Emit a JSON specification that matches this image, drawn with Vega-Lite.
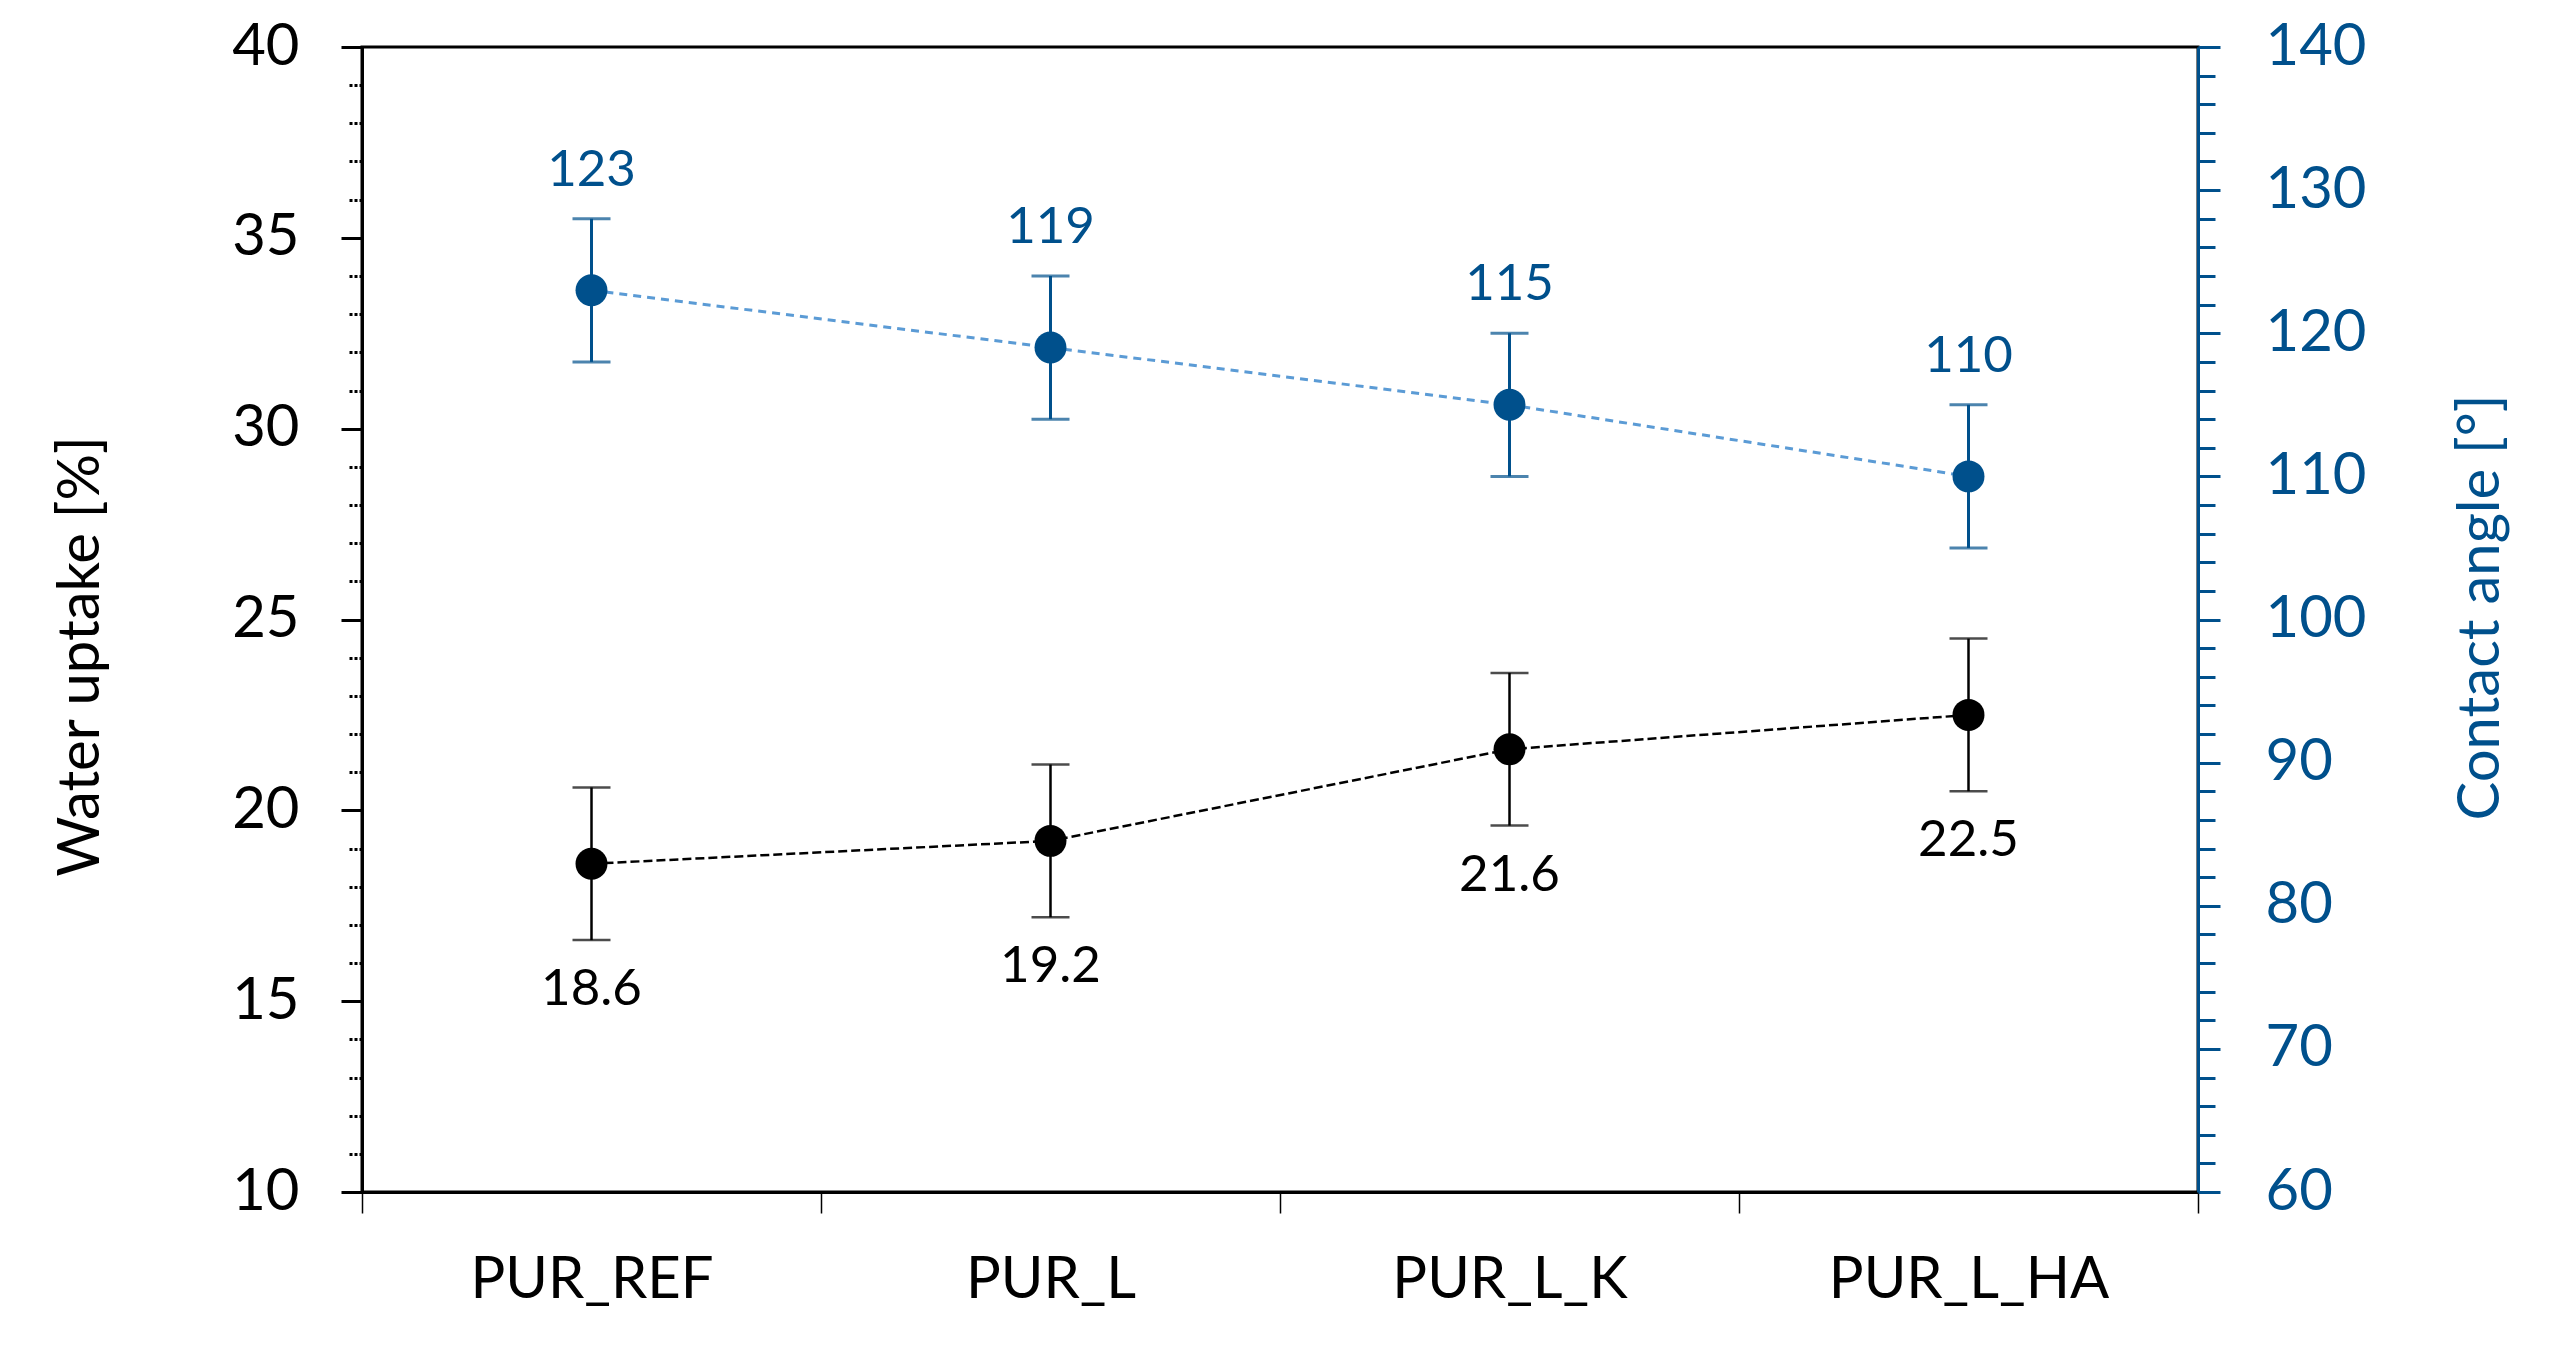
{
  "$schema": "https://vega.github.io/schema/vega-lite/v6.json",
  "width": 1836,
  "height": 1145,
  "autosize": {"type": "none"},
  "padding": {"left": 362, "top": 47, "right": 357, "bottom": 166},
  "background": "white",
  "config": {
    "view": {"stroke": "black", "strokeWidth": 3},
    "font": "Lato"
  },
  "data": {
    "values": [
      {"sample": "PUR_REF", "water": 18.6, "water_lo": 16.6, "water_hi": 20.6, "angle": 123, "angle_lo": 118, "angle_hi": 128},
      {"sample": "PUR_L", "water": 19.2, "water_lo": 17.2, "water_hi": 21.2, "angle": 119, "angle_lo": 114, "angle_hi": 124},
      {"sample": "PUR_L_K", "water": 21.6, "water_lo": 19.6, "water_hi": 23.6, "angle": 115, "angle_lo": 110, "angle_hi": 120},
      {"sample": "PUR_L_HA", "water": 22.5, "water_lo": 20.5, "water_hi": 24.5, "angle": 110, "angle_lo": 105, "angle_hi": 115}
    ]
  },
  "encoding": {
    "x": {
      "field": "sample",
      "type": "nominal",
      "sort": null,
      "scale": {"type": "band", "paddingInner": 0, "paddingOuter": 0},
      "axis": {
        "title": null,
        "labelAngle": 0,
        "labelLimit": 0,
        "tickBand": "extent",
        "tickSize": 21,
        "tickWidth": 1.5,
        "tickColor": "black",
        "domainColor": "black",
        "domainWidth": 3,
        "labelFont": "Lato",
        "labelFontSize": 58,
        "labelColor": "black",
        "labelPadding": 38,
        "grid": false
      }
    }
  },
  "layer": [
    {
      "mark": {"type": "line", "color": "black", "strokeWidth": 2.5, "strokeDash": [9, 4]},
      "encoding": {
        "y": {
          "field": "water",
          "type": "quantitative",
          "scale": {"domain": [10, 40], "nice": false, "zero": false},
          "axis": {
            "orient": "left",
            "title": "Water uptake [%]",
            "values": [10,11,12,13,14,15,16,17,18,19,20,21,22,23,24,25,26,27,28,29,30,31,32,33,34,35,36,37,38,39,40],
            "labelExpr": "datum.value % 5 === 0 ? datum.label : ''",
            "labelOverlap": false,
            "tickSize": {"condition": {"test": "datum.value % 5 === 0", "value": 21}, "value": 15},
            "tickDash": {"condition": {"test": "datum.value % 5 === 0", "value": [1, 0]}, "value": [3, 2]},
            "tickColor": "black",
            "tickWidth": 3,
            "domainColor": "black",
            "domainWidth": 3,
            "labelFont": "Lato",
            "labelFontSize": 58,
            "labelColor": "black",
            "labelPadding": 42,
            "grid": false,
            "titleFont": "Lato",
            "titleFontSize": 58,
            "titleFontWeight": "normal",
            "titleColor": "black",
            "titleAngle": 270,
            "titleBaseline": "bottom",
            "titleAlign": "center",
            "titleX": -252,
            "titleY": 609
          }
        }
      }
    },
    {
      "mark": {"type": "errorbar", "color": "black", "thickness": 2.5, "ticks": {"size": 38, "thickness": 2.5, "color": "black"}},
      "encoding": {
        "y": {"field": "water_lo", "type": "quantitative", "scale": {"domain": [10, 40], "nice": false, "zero": false}, "axis": null},
        "y2": {"field": "water_hi"}
      }
    },
    {
      "mark": {"type": "point", "filled": true, "shape": "circle", "size": 1020, "color": "black", "opacity": 1},
      "encoding": {
        "y": {"field": "water", "type": "quantitative", "scale": {"domain": [10, 40], "nice": false, "zero": false}, "axis": null}
      }
    },
    {
      "mark": {"type": "text", "font": "Lato", "fontSize": 51, "color": "black", "baseline": "alphabetic", "align": "center", "dy": 65},
      "encoding": {
        "y": {"field": "water_lo", "type": "quantitative", "scale": {"domain": [10, 40], "nice": false, "zero": false}, "axis": null},
        "text": {"field": "water", "type": "quantitative", "format": ".1f"}
      }
    },
    {
      "mark": {"type": "line", "color": "#5B9BD5", "strokeWidth": 3, "strokeDash": [8, 6]},
      "encoding": {
        "y": {
          "field": "angle",
          "type": "quantitative",
          "scale": {"domain": [60, 140], "nice": false, "zero": false},
          "axis": {
            "orient": "right",
            "title": "Contact angle [°]",
            "values": [60,62,64,66,68,70,72,74,76,78,80,82,84,86,88,90,92,94,96,98,100,102,104,106,108,110,112,114,116,118,120,122,124,126,128,130,132,134,136,138,140],
            "labelExpr": "datum.value % 10 === 0 ? datum.label : ''",
            "labelOverlap": false,
            "tickSize": {"condition": {"test": "datum.value % 10 === 0", "value": 22}, "value": 17},
            "tickColor": "#00508C",
            "tickWidth": 3,
            "domainColor": "#00508C",
            "domainWidth": 3,
            "labelFont": "Lato",
            "labelFontSize": 58,
            "labelColor": "#00508C",
            "labelPadding": 45,
            "grid": false,
            "titleFont": "Lato",
            "titleFontSize": 58,
            "titleFontWeight": "normal",
            "titleColor": "#00508C",
            "titleAngle": 270,
            "titleBaseline": "bottom",
            "titleAlign": "center",
            "titleX": 312,
            "titleY": 560
          }
        }
      }
    },
    {
      "mark": {"type": "errorbar", "color": "#00508C", "thickness": 3, "ticks": {"size": 38, "thickness": 3, "color": "#00508C"}},
      "encoding": {
        "y": {"field": "angle_lo", "type": "quantitative", "scale": {"domain": [60, 140], "nice": false, "zero": false}, "axis": null},
        "y2": {"field": "angle_hi"}
      }
    },
    {
      "mark": {"type": "point", "filled": true, "shape": "circle", "size": 1020, "color": "#00508C", "opacity": 1},
      "encoding": {
        "y": {"field": "angle", "type": "quantitative", "scale": {"domain": [60, 140], "nice": false, "zero": false}, "axis": null}
      }
    },
    {
      "mark": {"type": "text", "font": "Lato", "fontSize": 51, "color": "#00508C", "baseline": "alphabetic", "align": "center", "dy": -33},
      "encoding": {
        "y": {"field": "angle_hi", "type": "quantitative", "scale": {"domain": [60, 140], "nice": false, "zero": false}, "axis": null},
        "text": {"field": "angle", "type": "quantitative", "format": "d"}
      }
    }
  ],
  "resolve": {"scale": {"y": "independent"}}
}
